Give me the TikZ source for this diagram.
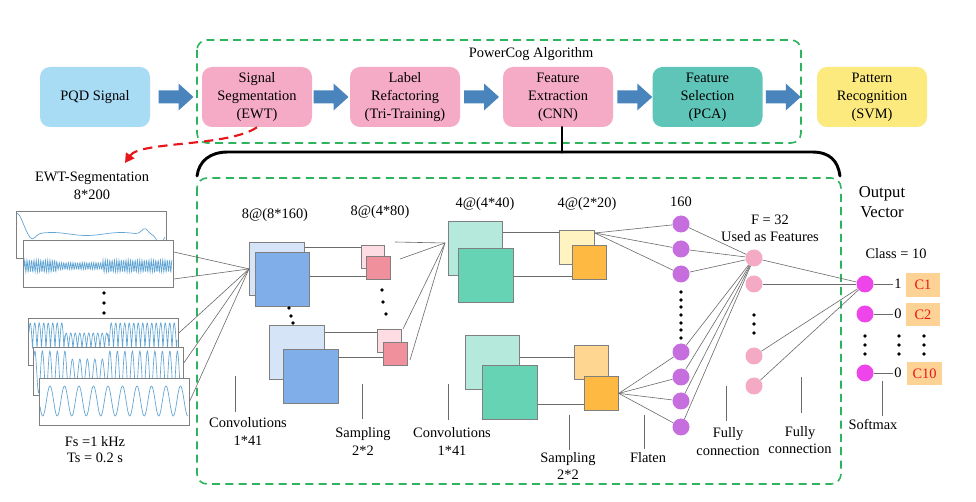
\documentclass[tikz,border=0pt]{standalone}
\usepackage{fontspec}
\setmainfont{Liberation Serif}
\usetikzlibrary{calc,arrows.meta}

\definecolor{pqdblue}{HTML}{A8DCF5}
\definecolor{procpink}{HTML}{F5ABC5}
\definecolor{selteal}{HTML}{5FC5B9}
\definecolor{patyellow}{HTML}{FDEA7E}
\definecolor{arrowblue}{HTML}{4A84BC}
\definecolor{grpgreen}{HTML}{2EB35E}
\definecolor{sqedge}{HTML}{7F7F7F}
\definecolor{wiregray}{HTML}{6A6A6A}
\definecolor{sigblue}{HTML}{5FA4D2}
\definecolor{bluelt}{HTML}{D6E4F8}
\definecolor{bluedk}{HTML}{80AEE8}
\definecolor{pinklt}{HTML}{FDDDE3}
\definecolor{pinkdk}{HTML}{F0909C}
\definecolor{teallt}{HTML}{B5E9DB}
\definecolor{tealdk}{HTML}{66D4B4}
\definecolor{yellowlt}{HTML}{FFF4C1}
\definecolor{orangelt}{HTML}{FED691}
\definecolor{orangedk}{HTML}{FDB942}
\definecolor{flatpurple}{HTML}{C66EDE}
\definecolor{fcpink}{HTML}{F4AAC4}
\definecolor{outmagenta}{HTML}{EE45EA}
\definecolor{classbox}{HTML}{FCD395}
\definecolor{classred}{HTML}{E8161B}
\definecolor{arrowred}{HTML}{E8161B}

% wide block arrow centred on #1
\newcommand\blockarrow[1]{%
  \fill[arrowblue] #1 ++(-17.5,-6.5) -- ++(20,0) -- ++(0,-7) -- ++(15,13.5)
    -- ++(-15,13.5) -- ++(0,-7) -- ++(-20,0) -- cycle;}

\begin{document}
\begin{tikzpicture}[x=0.75pt, y=-0.75pt,
  every node/.style={font=\fontsize{10.8}{13}\selectfont},
  sz/.style 2 args={minimum width=#1*0.75pt, minimum height=#2*0.75pt},
  procbox/.style={rounded corners=7.5pt, minimum width=82.5pt, minimum height=45pt,
    align=center, inner sep=0pt, font=\fontsize{10.8}{13.5}\selectfont},
  grp/.style={draw=grpgreen, dash pattern=on 6pt off 4pt, line width=1.2pt, rounded corners=7.5pt},
  sq/.style={draw=sqedge, line width=0.6pt, inner sep=0pt, anchor=north west},
  panel/.style={draw=sqedge, fill=white, line width=0.6pt, inner sep=0pt, anchor=north west},
  sig/.style={draw=sigblue, line width=0.5pt},
  wire/.style={draw=wiregray, line width=0.45pt},
  neuron/.style={circle, inner sep=0pt, minimum size=17*0.75pt},
  lbl/.style={align=center, inner sep=0pt},
  cbox/.style={fill=classbox, text=classred, inner sep=0pt},
  brace/.style={line width=2.2pt, line cap=round, line join=round}]

\fill[white] (0,0) rectangle (976,502);
\path[use as bounding box] (0,0) rectangle (976,502);

% ---------- processing chain ----------
\node[procbox, fill=pqdblue]   (pqd) at (95,97)    {PQD Signal};
\node[procbox, fill=procpink]  (seg) at (257,97)   {Signal\\Segmentation\\(EWT)};
\node[procbox, fill=procpink]  (lab) at (405,97)   {Label\\Refactoring\\(Tri-Training)};
\node[procbox, fill=procpink]  (fe)  at (558,97)   {Feature\\Extraction\\(CNN)};
\node[procbox, fill=selteal]   (fs)  at (707.5,97) {Feature\\Selection\\(PCA)};
\node[procbox, fill=patyellow] (pr)  at (872,97)   {Pattern\\Recognition\\(SVM)};

\blockarrow{($(pqd.east)!0.5!(seg.west)$)}
\blockarrow{($(seg.east)!0.5!(lab.west)$)}
\blockarrow{($(lab.east)!0.5!(fe.west)$)}
\blockarrow{($(fe.east)!0.5!(fs.west)+(2,0)$)}
\blockarrow{($(fs.east)+(20.5,0)$)}

\draw[grp] (197,40) rectangle (801,143);
\node[lbl] (pcog) at (531,54) {PowerCog Algorithm};

% ---------- link from segmentation to its output ----------
\coordinate (ewtin) at (125,163);
\draw[arrowred, line width=1.6pt, dash pattern=on 7pt off 4.5pt,
  -{Triangle[length=7pt,width=7.5pt]}]
  (seg.south) .. controls (228,147) and (140,141) .. (ewtin);

% ---------- brace opening the CNN detail ----------
\coordinate (bl) at (197,176);
\coordinate (br) at (840,176);
\draw[brace] (bl) .. controls (199,161) and (210,152) .. (228,152) -- (812,152)
  .. controls (830,152) and (838,161) .. (br);
\draw[brace] ([xshift=3pt]fe.south) -- ++(0,25);
\draw[grp] (197,178) rectangle (841,484);

% ---------- segmented signals ----------
\node[lbl, font=\fontsize{10.8}{13.5}\selectfont] (ewtlbl) at (92,186) {EWT-Segmentation\\8*200};

\node[panel, sz={150}{47}] (p1) at (16,211) {};
\begin{scope}
  \clip (p1.north west) rectangle (p1.south east);
  \draw[sig] plot[domain=17:165, samples=160, smooth]
    (\x, {234 + 1.5*sin(5.2*\x) - 22*exp(-min(((\x-17)/8)*((\x-17)/8),20))
      + 5*exp(-min(((\x-32)/5)*((\x-32)/5),20))
      - 6*exp(-min(((\x-145)/5)*((\x-145)/5),20))
      + 10*exp(-min(((\x-160)/4)*((\x-160)/4),20))});
\end{scope}

\node[panel, sz={150}{47}] (p2) at (23,240) {};
\begin{scope}
  \clip (p2.north west) rectangle (p2.south east);
  \draw[sig] plot[domain=24:172, samples=400]
    (\x, {266 + (6-2.5*(\x>57)*(\x<103))*sin(mod(\x,2.3)*156.52)});
\end{scope}

\foreach \yy in {293,303,313} \fill (104,\yy) circle (1.4pt);

\node[panel, sz={150}{47}] (p3) at (28,318) {};
\begin{scope}
  \clip (p3.north west) rectangle (p3.south east);
  \draw[sig] plot[domain=29:177, samples=420]
    (\x, {349 - (26-10*(\x>65)*(\x<108))*abs(sin(mod(\x-28,4.5)*40))});
\end{scope}

\node[panel, sz={150}{48}] (p4) at (33,347) {};
\begin{scope}
  \clip (p4.north west) rectangle (p4.south east);
  \draw[sig] plot[domain=34:182, samples=300]
    (\x, {372 - (21-8*(\x>67)*(\x<108))*sin(mod(\x-33,7.5)*48)});
\end{scope}

\node[panel, sz={150}{47}] (p5) at (39,378) {};
\begin{scope}
  \clip (p5.north west) rectangle (p5.south east);
  \draw[sig] plot[domain=40:188, samples=220, smooth]
    (\x, {401 - 15*cos(mod(\x-50,14.5)*24.83)});
\end{scope}

\node[lbl, font=\fontsize{10.8}{12}\selectfont] (fslbl) at (95,450) {Fs =1 kHz\\Ts = 0.2 s};

% ---------- feature maps ----------
\node[sq, fill=bluelt, sz={55}{53}] (c1a) at (249,242) {};
\node[sq, fill=bluedk, sz={54}{54}] (c1b) at (255,252) {};
\node[sq, fill=bluelt, sz={55}{54}] (c1c) at (269,325) {};
\node[sq, fill=bluedk, sz={55}{54}] (c1d) at (283,349) {};
\foreach \xx/\yy in {289/308,291/316,293/323} \fill (\xx,\yy) circle (1.4pt);

\node[sq, fill=pinklt, sz={23}{23}] (s1a) at (361,245) {};
\node[sq, fill=pinkdk, sz={24}{23}] (s1b) at (366,256) {};
\node[sq, fill=pinklt, sz={24}{23}] (s1c) at (377,329) {};
\node[sq, fill=pinkdk, sz={24}{23}] (s1d) at (383,342) {};
\foreach \xx/\yy in {382/290,383/302,386/314} \fill (\xx,\yy) circle (1.4pt);

\node[sq, fill=teallt, sz={54}{54}] (c2a) at (448,221) {};
\node[sq, fill=tealdk, sz={55}{54}] (c2b) at (458,248) {};
\node[sq, fill=teallt, sz={54}{54}] (c2c) at (465,335) {};
\node[sq, fill=tealdk, sz={55}{54}] (c2d) at (482,365) {};

\node[sq, fill=yellowlt, sz={35}{34}] (s2a) at (559,230) {};
\node[sq, fill=orangedk, sz={34}{34}] (s2b) at (572,245) {};
\node[sq, fill=orangelt, sz={34}{34}] (s2c) at (574,345) {};
\node[sq, fill=orangedk, sz={34}{34}] (s2d) at (584,376) {};

\node[lbl] (m1) at (275,215) {8@(8*160)};
\node[lbl] (m2) at (380,212) {8@(4*80)};
\node[lbl] (m3) at (485,204) {4@(4*40)};
\node[lbl] (m4) at (587,204) {4@(2*20)};

% ---------- connections between maps ----------
\coordinate (c1in) at (c1a.west);
\draw[wire] (p2.east |- 0,252) -- (c1in);
\draw[wire] (p2.east |- 0,279) -- (c1in);
\draw[wire] (p3.east |- 0,333) -- (c1in);
\draw[wire] (p4.east |- 0,363) -- (c1in);
\draw[wire] (p5.east |- 0,401) -- (c1in);

\draw[wire] (c1a.east |- 0,247) -- (s1a.west |- 0,247);
\draw[wire] (c1b.east |- 0,276) -- (s1b.west |- 0,276);
\draw[wire] (c1c.east |- 0,332) -- (s1c.west |- 0,332);
\draw[wire] (c1d.east |- 0,357) -- (s1d.west |- 0,357);

\coordinate (c2in) at (445,243);
\coordinate (t1) at (395,242);
\coordinate (t2) at (400,259);
\coordinate (t3) at (403,329);
\coordinate (t4) at (410,360);
\foreach \t in {t1,t2,t3,t4} \draw[wire] (\t) -- (c2in);

\draw[wire] (c2a.east |- 0,232) -- (s2a.west |- 0,232);
\draw[wire] (c2b.east |- 0,276) -- (s2b.west |- 0,276);
\draw[wire] (c2c.east |- 0,357) -- (s2c.west |- 0,357);
\draw[wire] (c2d.east |- 0,404) -- (s2d.west |- 0,404);

% ---------- flatten, fully connected and output layers ----------
\foreach \i/\yy in {1/224,2/249,3/274,4/352,5/377,6/401,7/427}
  \node[neuron, fill=flatpurple] (n\i) at (681,\yy) {};
\foreach \yy in {292,300,307,315,323,330,338} \fill (681,\yy) circle (1.4pt);
\node[lbl] (cnt) at (681,202) {160};

\foreach \i/\yy in {1/258,2/284,3/356,4/386}
  \node[neuron, fill=fcpink] (fc\i) at (754,\yy) {};
\foreach \yy in {315,324,333} \fill (754,\yy) circle (1.4pt);
\node[lbl, font=\fontsize{10.8}{12.5}\selectfont] (fnum) at (770,228.5) {F = 32\\Used as Features};

\foreach \i/\yy in {1/284,2/314,3/373}
  \node[neuron, fill=outmagenta] (o\i) at (865,\yy) {};

\foreach \i in {1,2,3} \draw[wire] (s2a.east |- 0,233) -- (n\i);
\foreach \i in {4,...,7} \draw[wire] (s2d.east) -- (n\i);
\foreach \i in {1,...,7} \draw[wire] (n\i) -- (fc1);
\foreach \i in {1,...,4} \draw[wire] (fc\i) -- (o1);

\node[lbl, inner sep=1pt] (v1) at (898,284) {1};
\node[lbl, inner sep=1pt] (v2) at (898,314) {0};
\node[lbl, inner sep=1pt] (v3) at (898,373) {0};
\draw[wire] (o1) -- (v1);
\draw[wire] (o2) -- (v2);
\draw[wire] (o3) -- (v3);

\node[cbox, sz={34}{24}] (k1) at (923,285) {C1};
\node[cbox, sz={34}{23}] (k2) at (923,314.5) {C2};
\node[cbox, sz={35}{23}] (k3) at (924.5,373.5) {C10};
\foreach \xx in {865,899,924}
  \foreach \yy in {336,345,354} \fill (\xx,\yy) circle (1.4pt);

\node[lbl] (cls) at (896,254) {Class = 10};
\node[lbl, font=\fontsize{12.5}{15}\selectfont] (outv) at (882,202) {Output\\Vector};

% ---------- layer captions ----------
\draw[wire] (235,376) -- (235,412);
\draw[wire] (362,384) -- (362,419);
\draw[wire] (448,384) -- (448,420);
\draw[wire] (569,415) -- (569,450);
\draw[wire] (644,415) -- (644,449);
\draw[wire] (726,386) -- (726,421);
\draw[wire] (801,377) -- (801,413);
\draw[wire] (882,381) -- (882,416);

\node[lbl] (a1) at (248,431.5) {Convolutions\\1*41};
\node[lbl] (a2) at (363,441.5) {Sampling\\2*2};
\node[lbl] (a3) at (452,441.5) {Convolutions\\1*41};
\node[lbl] (a4) at (568,466) {Sampling\\2*2};
\node[lbl] (a5) at (648,458) {Flaten};
\node[lbl] (a6) at (728,441.5) {Fully\\connection};
\node[lbl] (a7) at (800,440) {Fully\\connection};
\node[lbl] (a8) at (873,425) {Softmax};

\end{tikzpicture}
\end{document}
